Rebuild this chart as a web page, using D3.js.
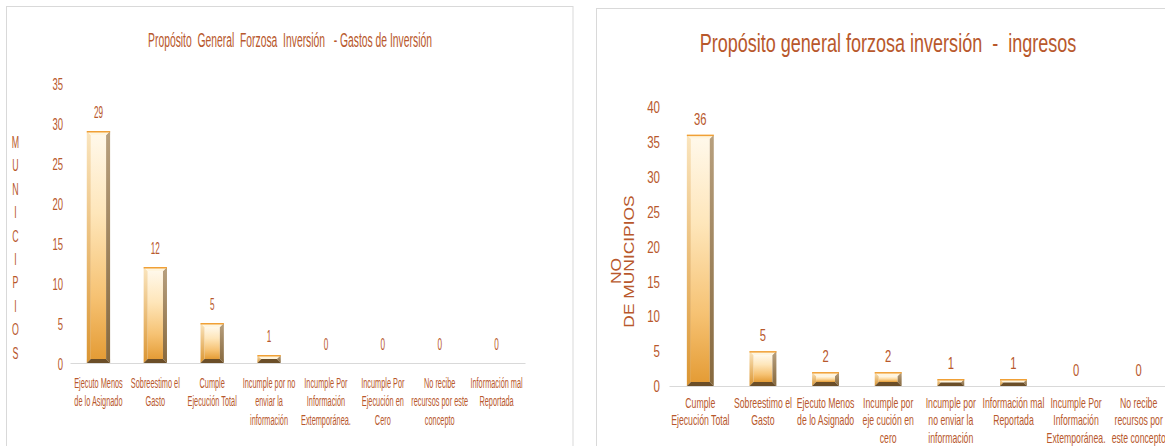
<!DOCTYPE html>
<html>
<head>
<meta charset="utf-8">
<script src="https://cdn.jsdelivr.net/npm/d3@7/dist/d3.min.js"></script>
<style>
  html, body { margin: 0; padding: 0; background: #ffffff; }
  svg { display: block; }
  text { font-family: "Liberation Sans", Arial, sans-serif; fill: #B8582C; }
</style>
</head>
<body>
<svg id="chart" width="1165" height="446"></svg>
<script>
// ---------------- DATA ----------------
const leftTitle = "Propósito  General  Forzosa  Inversión   - Gastos de Inversión";
const leftCategories = [
  ["Ejecuto Menos", "de lo Asignado"],
  ["Sobreestimo el", "Gasto"],
  ["Cumple", "Ejecución Total"],
  ["Incumple por no", "enviar la", "información"],
  ["Incumple Por", "Información", "Extemporánea."],
  ["Incumple  Por", "Ejecución en", "Cero"],
  ["No recibe", "recursos por este", "concepto"],
  ["Información mal", "Reportada"]
];
const leftValues = [29, 12, 5, 1, 0, 0, 0, 0];
const leftTicks = [0, 5, 10, 15, 20, 25, 30, 35];
const leftAxisTitle = "MUNICIPIOS";

const rightTitle = "Propósito general forzosa inversión  -  ingresos";
const rightCategories = [
  ["Cumple", "Ejecución Total"],
  ["Sobreestimo el", "Gasto"],
  ["Ejecuto Menos", "de lo Asignado"],
  ["Incumple por", "eje cución en", "cero"],
  ["Incumple por", "no enviar la", "información"],
  ["Información mal", "Reportada"],
  ["Incumple Por", "Información", "Extemporánea."],
  ["No recibe", "recursos por", "este concepto"]
];
const rightValues = [36, 5, 2, 2, 1, 1, 0, 0];
const rightTicks = [0, 5, 10, 15, 20, 25, 30, 35, 40];
const rightAxisTitle = ["NO", "DE MUNICIPIOS"];

// ---------------- SETUP ----------------
const svg = d3.select("#chart");
const defs = svg.append("defs");

function linGrad(id, stops, vertical) {
  const g = defs.append("linearGradient").attr("id", id)
    .attr("x1", 0).attr("y1", 0)
    .attr("x2", vertical ? 0 : 1).attr("y2", vertical ? 1 : 0);
  stops.forEach(s => g.append("stop").attr("offset", s[0]).attr("stop-color", s[1]));
}
linGrad("face", [["0%", "#FFF8EA"], ["35%", "#FEE6BA"], ["72%", "#F6C273"], ["100%", "#E49C36"]], true);
linGrad("lbev", [["0%", "#FAE5BE"], ["100%", "#DB9531"]], true);
linGrad("rbev", [["0%", "#B8A07E"], ["100%", "#86683D"]], true);

// Helper: condensed text (horizontal scale around anchor)
function ctext(parent, x, y, str, size, sx, anchor, rot) {
  const g = parent.append("g")
    .attr("transform", `translate(${x},${y})` + (rot ? ` rotate(${rot})` : "") + ` scale(${sx},1)`);
  g.append("text").attr("x", 0).attr("y", 0)
    .attr("text-anchor", anchor || "middle")
    .style("font-size", size + "px")
    .text(str);
  return g;
}
function fitTitle(parent, cx, y, str, size, targetW) {
  const g = parent.append("g");
  const t = g.append("text").attr("text-anchor", "middle")
    .style("font-size", size + "px").style("white-space", "pre")
    .attr("xml:space", "preserve").text(str);
  const len = t.node().getComputedTextLength();
  g.attr("transform", `translate(${cx},${y}) scale(${targetW / len},1)`);
}

function drawBars(g, x, y, cats, vals) {
  const y0 = y(0);
  cats.forEach((c, i) => {
    const v = vals[i];
    if (v <= 0) return;
    const bx = x(i), bw = x.bandwidth(), by = y(v), h = y0 - by;
    const b = Math.min(4, h / 2);
    const bg = g.append("g");
    bg.append("rect").attr("x", bx + b).attr("y", by + b)
      .attr("width", bw - 2 * b).attr("height", Math.max(0, h - 2 * b)).attr("fill", "url(#face)");
    const poly = (pts, fill) => bg.append("polygon")
      .attr("points", pts.map(p => p.join(",")).join(" ")).attr("fill", fill);
    poly([[bx, by], [bx + b, by + b], [bx + b, y0 - b], [bx, y0]], "url(#lbev)");
    poly([[bx + bw, by], [bx + bw, y0], [bx + bw - b, y0 - b], [bx + bw - b, by + b]], "url(#rbev)");
    poly([[bx, by], [bx + bw, by], [bx + bw - b, by + b], [bx + b, by + b]], "#FFF5DE");
    poly([[bx, y0], [bx + bw, y0], [bx + bw - b, y0 - b], [bx + b, y0 - b]], "#6B4E28");
    bg.append("line").attr("x1", bx).attr("x2", bx + bw).attr("y1", by + 0.75).attr("y2", by + 0.75)
      .attr("stroke", "#F0A036").attr("stroke-width", 1.5);
  });
}

// ---------------- LEFT CHART ----------------
svg.append("rect").attr("x", 6.5).attr("y", 6.5).attr("width", 566.5).attr("height", 470)
  .attr("fill", "none").attr("stroke", "#D9D9D9");

const L = svg.append("g");
fitTitle(L, 290, 47, leftTitle, 21, 284);

const xL = d3.scaleBand().domain(d3.range(leftCategories.length)).range([70, 525])
  .paddingInner(0.59).paddingOuter(0.295);
const yL = d3.scaleLinear().domain([0, 35]).range([363, 83]);

const yAxL = L.append("g").attr("transform", "translate(63,0)")
  .call(d3.axisLeft(yL).tickValues(leftTicks).tickSize(0).tickPadding(0));
yAxL.select(".domain").remove();
yAxL.selectAll("text").attr("x", 0).attr("dy", "0.36em")
  .attr("transform", "scale(0.56,1)").style("font-size", "17px")
  .style("font-family", '"Liberation Sans", Arial, sans-serif').attr("fill", "#B8582C");

const xAxL = L.append("g").attr("transform", "translate(0,363)")
  .call(d3.axisBottom(xL).tickSize(0).tickSizeOuter(0).tickFormat(""));
xAxL.select(".domain").attr("stroke", "#D9D9D9");
xAxL.selectAll(".tick").each(function (d) {
  const t = d3.select(this);
  leftCategories[d].forEach((line, k) => ctext(t, 0, 25 + k * 18.3, line, 15, 0.49));
});

drawBars(L, xL, yL, leftCategories, leftValues);
leftValues.forEach((v, i) =>
  ctext(L, xL(i) + xL.bandwidth() / 2, yL(v) - 13, String(v), 17, 0.48));

leftAxisTitle.split("").forEach((ch, i) => ctext(L, 15.5, 148 + i * 23.4, ch, 17, 0.52));

// ---------------- RIGHT CHART ----------------
svg.append("rect").attr("x", 596.5).attr("y", 8.5).attr("width", 620).attr("height", 470)
  .attr("fill", "none").attr("stroke", "#D9D9D9");

const R = svg.append("g");
fitTitle(R, 888, 52, rightTitle, 26, 377);

const xR = d3.scaleBand().domain(d3.range(rightCategories.length)).range([669, 1170])
  .paddingInner(0.57).paddingOuter(0.285);
const yR = d3.scaleLinear().domain([0, 40]).range([386, 106.7]);

const yAxR = R.append("g").attr("transform", "translate(660,0)")
  .call(d3.axisLeft(yR).tickValues(rightTicks).tickSize(0).tickPadding(0));
yAxR.select(".domain").remove();
yAxR.selectAll("text").attr("x", 0).attr("dy", "0.36em")
  .attr("transform", "scale(0.72,1)").style("font-size", "16px")
  .style("font-family", '"Liberation Sans", Arial, sans-serif').attr("fill", "#B8582C");

const xAxR = R.append("g").attr("transform", "translate(0,386)")
  .call(d3.axisBottom(xR).tickSize(0).tickSizeOuter(0).tickFormat(""));
xAxR.select(".domain").attr("stroke", "#D9D9D9");
xAxR.selectAll(".tick").each(function (d) {
  const t = d3.select(this);
  rightCategories[d].forEach((line, k) => ctext(t, 0, 22 + k * 17.4, line, 15, 0.58));
});

drawBars(R, xR, yR, rightCategories, rightValues);
rightValues.forEach((v, i) =>
  ctext(R, xR(i) + xR.bandwidth() / 2, yR(v) - 10, String(v), 17, 0.66));

ctext(R, 621, 271, rightAxisTitle[0], 14.5, 1.2, "middle", -90);
ctext(R, 633.5, 261.5, rightAxisTitle[1], 14.5, 1.2, "middle", -90);
</script>
</body>
</html>
